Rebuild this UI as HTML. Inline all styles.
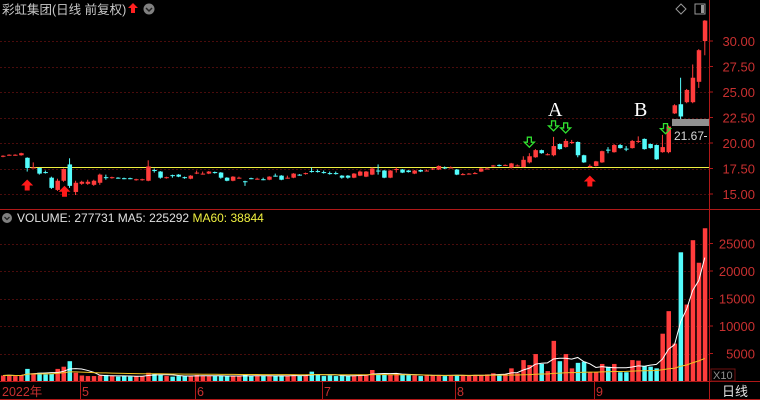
<!DOCTYPE html>
<html><head><meta charset="utf-8"><style>
html,body{margin:0;padding:0;background:#000;}
svg{display:block;font-family:"Liberation Sans","Noto Sans CJK SC",sans-serif;}
</style></head><body>
<svg id="c" width="760" height="400" viewBox="0 0 760 400" xmlns="http://www.w3.org/2000/svg">
<rect x="0" y="0" width="760" height="400" fill="#000"/>
<g id="grid"></g>
<g id="frame">
<line x1="709.5" y1="0" x2="709.5" y2="400" stroke="#b01818"/>
<line x1="0" y1="209.5" x2="760" y2="209.5" stroke="#b01818"/>
<line x1="0" y1="381.5" x2="760" y2="381.5" stroke="#b01818"/>
<line x1="0" y1="399.5" x2="760" y2="399.5" stroke="#b01818"/>
</g>
<text x="2" y="14" font-size="12.5" fill="#c8c8c8">彩虹集团(日线 前复权)</text>
<path d="M133 3 L138 8 L135 8 L135 13 L131 13 L131 8 L128 8 Z" fill="#ff2020"/>
<circle cx="149" cy="9" r="5.5" fill="#808080"/>
<path d="M146 8 L149 11 L152 8" stroke="#222" stroke-width="1.5" fill="none"/>
<path d="M681 4 L686 9 L681 14 L676 9 Z" fill="none" stroke="#999"/>
<rect x="695" y="4" width="10" height="10" fill="none" stroke="#999"/>
<rect x="701" y="5" width="3" height="8" fill="#999"/>
<line x1="30" y1="167.5" x2="709" y2="167.5" stroke="#f0f040" stroke-width="1"/>
<g id="candles"></g>
<g id="vols"></g>
<g id="lines"></g>
<g id="axes"></g>
<rect x="672" y="119" width="37" height="7" fill="#909090"/>
<text x="674" y="140" font-size="12" fill="#d8d8d8">21.67</text>
<line x1="704" y1="136.5" x2="707" y2="136.5" stroke="#d8d8d8"/>
<text x="548" y="116" font-size="20" font-family="Liberation Serif,serif" fill="#fff">A</text>
<text x="634" y="116" font-size="20" font-family="Liberation Serif,serif" fill="#fff">B</text>
<g id="signals"></g>
<circle cx="7" cy="218" r="5" fill="#808080"/>
<path d="M4.5 217 L7 219.5 L9.5 217" stroke="#222" stroke-width="1.3" fill="none"/>
<text x="17" y="222" font-size="12" fill="#e0e0e0">VOLUME: 277731  MA5: 225292 <tspan fill="#f0f040">MA60: 38844</tspan></text>
<rect x="711" y="369" width="24" height="12" fill="none" stroke="#701010"/>
<text x="713" y="379" font-size="11" fill="#909090">X10</text>
<text x="722" y="396" font-size="13" fill="#e0e0e0">日线</text>
<g id="months"></g>
</svg>
<script>
const openP=[18.7,18.8,18.8,18.8,18.55,17.55,17.55,17.15,16.6,15.4,16.3,17.9,15.2,16.0,16.0,15.9,16.1,16.65,16.55,16.6,16.55,16.55,16.35,16.35,16.3,17.35,17.2,16.55,16.85,16.9,16.65,16.5,17.05,16.95,17.0,17.15,17.1,16.6,16.3,16.55,16.25,16.55,16.45,16.45,16.4,16.8,16.8,16.55,16.6,16.9,16.95,17.25,17.25,17.15,17.05,17.05,16.8,16.8,16.6,16.8,16.7,16.9,17.3,17.3,16.6,17.35,17.4,17.3,17.0,17.35,17.25,17.4,17.4,17.6,17.55,17.4,16.9,16.95,17.0,17.2,17.45,17.7,17.85,17.8,17.6,17.75,17.65,18.1,18.6,19.3,18.85,18.8,19.9,19.6,20.05,20.1,18.8,17.7,17.75,18.1,19.35,19.1,19.8,19.45,19.5,20.15,20.4,19.9,19.8,19.1,19.1,22.9,23.8,24.0,24.0,26.0,30.0];
const closeP=[18.75,18.85,18.85,19.0,17.55,17.6,17.0,17.1,15.6,16.3,17.45,15.8,16.1,16.2,16.2,16.3,16.9,16.6,16.65,16.55,16.5,16.5,16.45,16.45,17.7,17.3,16.6,16.65,16.8,16.7,16.6,16.8,17.1,17.0,17.2,17.05,16.6,16.3,16.7,16.6,16.2,16.5,16.5,16.4,16.7,16.75,16.4,16.6,17.0,16.85,17.05,17.2,17.2,17.1,17.0,17.0,16.6,16.6,17.0,17.2,17.2,17.5,17.25,16.6,17.3,17.45,17.1,17.15,17.3,17.2,17.3,17.5,17.75,17.5,17.6,16.9,16.95,17.0,17.05,17.5,17.5,17.8,17.8,17.85,18.0,17.8,18.35,18.7,19.3,19.0,18.9,19.7,19.4,20.2,20.1,18.8,18.1,17.75,18.2,19.2,19.3,19.8,19.5,19.4,20.2,20.2,19.4,19.5,18.4,19.6,21.6,23.7,22.6,25.2,26.4,29.1,32.0];
const highP=[18.8,18.9,18.9,19.05,18.6,18.1,17.6,17.3,16.7,16.5,17.5,18.5,16.3,16.3,16.4,16.4,17.0,16.9,16.7,16.65,16.6,16.6,16.5,16.5,18.3,17.5,17.25,16.7,16.9,16.95,16.7,16.85,17.3,17.2,17.25,17.2,17.15,16.65,16.75,16.7,16.3,16.6,16.6,16.6,16.75,17.0,16.85,16.8,17.05,16.95,17.1,17.6,17.4,17.3,17.2,17.2,16.85,16.85,17.05,17.3,17.25,17.6,17.9,17.35,17.35,17.6,17.45,17.35,17.35,17.4,17.4,17.55,17.8,17.7,17.7,17.45,17.05,17.05,17.15,17.55,17.6,17.85,17.9,17.9,18.05,17.9,18.7,19.0,19.4,19.35,19.0,20.6,19.95,20.4,20.3,20.15,18.85,17.9,18.25,19.25,19.6,19.9,19.9,19.7,20.3,20.65,20.45,19.95,19.85,20.8,21.7,23.8,26.4,25.3,27.7,29.2,32.05];
const lowP=[18.6,18.75,18.75,18.75,17.2,17.5,16.9,17.0,15.5,15.3,16.2,15.6,14.9,15.9,15.9,15.8,15.9,16.4,16.5,16.5,16.45,16.45,16.3,16.3,16.25,17.1,16.5,16.5,16.6,16.65,16.5,16.45,16.95,16.9,16.95,17.0,16.5,16.25,16.25,16.5,15.8,16.45,16.4,16.35,16.35,16.7,16.35,16.5,16.55,16.8,16.9,17.1,17.1,17.0,16.9,16.9,16.5,16.5,16.55,16.75,16.65,16.85,16.9,16.55,16.55,17.1,17.05,17.1,16.95,17.15,17.2,17.35,17.35,17.45,17.5,16.85,16.85,16.9,16.95,17.15,17.4,17.65,17.7,17.75,17.5,17.7,17.6,18.0,18.55,18.95,18.8,18.7,19.35,19.55,19.9,18.6,18.05,17.6,17.7,18.05,19.0,19.05,19.45,19.2,19.45,20.0,19.35,19.45,18.35,19.05,19.0,22.85,22.3,23.9,23.9,25.4,28.6];
const volume=[1000,1100,900,1000,2200,1400,1500,1200,1300,2200,2600,3600,1500,1000,900,900,1000,1100,900,800,900,800,900,900,1500,1300,1100,900,800,900,900,1000,1100,900,900,900,1000,900,900,900,1100,900,1000,900,900,1000,1000,900,1100,900,1000,1700,1200,900,1000,900,1000,900,1000,1200,1100,2000,1300,1200,1100,1300,1300,1100,1000,900,1000,1100,1100,900,1000,1100,1000,900,1100,1000,1200,1400,1200,1300,2300,1400,3800,2900,4900,3100,1800,7300,3600,4900,2300,3300,3500,1600,1600,3100,2600,3100,1600,1600,3800,3700,2700,2600,2300,8600,12700,6800,23400,13900,25600,21500,27773];
const priceTicks=[30,27.5,25,22.5,20,17.5,15];
const volTicks=[25000,20000,15000,10000,5000];
const monthLabels=["2022年","5","6","7","8","9"];
const monthIdx=[0,13,32,53,75,98];

const NS="http://www.w3.org/2000/svg";
const X=i=>3+i*6.05;
const PY=p=>41+(30-p)*10.2;
const VY=v=>381-v*0.0055;
function mk(tag,attrs,parent){const e=document.createElementNS(NS,tag);for(const k in attrs)e.setAttribute(k,attrs[k]);parent.appendChild(e);return e;}
const UP="#ff3c3c",DN="#54fcfc";
const grid=document.getElementById('grid');
priceTicks.forEach(t=>{const l=mk('line',{x1:0,x2:709,y1:Math.round(PY(t))+0.5,y2:Math.round(PY(t))+0.5,stroke:"#4a0c0c","stroke-dasharray":"2,2"},grid);

});
volTicks.forEach(t=>{const l=mk('line',{x1:0,x2:709,y1:Math.round(VY(t))+0.5,y2:Math.round(VY(t))+0.5,stroke:"#4a0c0c","stroke-dasharray":"2,2"},grid);

});
const axes=document.getElementById('axes');
priceTicks.forEach(t=>{const tx=mk('text',{x:755,y:PY(t)+5,"font-size":13,fill:"#c83030","text-anchor":"end"},axes);tx.textContent=t.toFixed(2);


mk('line',{x1:709,x2:713,y1:PY(t),y2:PY(t),stroke:"#b01818"},axes);});
volTicks.forEach(t=>{const tx=mk('text',{x:755,y:VY(t)+5,"font-size":13,fill:"#c83030","text-anchor":"end"},axes);tx.textContent=t;


mk('line',{x1:709,x2:713,y1:VY(t),y2:VY(t),stroke:"#b01818"},axes);});
const cg=document.getElementById('candles');
for(let i=0;i<openP.length;i++){
 const up=closeP[i]>=openP[i],col=up?UP:DN,x=X(i);
 const g=mk('g',{},cg);
 
 
 mk('line',{x1:x,x2:x,y1:PY(highP[i]),y2:PY(lowP[i]),stroke:col,"stroke-width":1},g);
 const t=PY(Math.max(openP[i],closeP[i])),b=PY(Math.min(openP[i],closeP[i]));
 mk('rect',{x:x-2,y:t,width:4.5,height:Math.max(1,b-t),fill:col},g);
}
const vg=document.getElementById('vols');
for(let i=0;i<volume.length;i++){
 const up=closeP[i]>=openP[i];
 const r=mk('rect',{x:X(i)-2,y:VY(volume[i]),width:4.5,height:381-VY(volume[i]),fill:up?UP:DN},vg);
 
 
}
function ma(n){return volume.map((v,i)=>{const s=volume.slice(Math.max(0,i-n+1),i+1);return s.reduce((a,b)=>a+b,0)/s.length;});}
const lg=document.getElementById('lines');
[[ma(5),"#ffffff","ma5-line"],[ma(60),"#f0c020","ma60-line"]].forEach(([arr,c,n])=>{
 const p=mk('polyline',{points:arr.map((v,i)=>X(i)+","+VY(v)).join(" "),fill:"none",stroke:c,"stroke-width":1},lg);
 
 
});
const sg=document.getElementById('signals');
[4,10,97].forEach(i=>{const x=X(i)+(i==10?1:0),y=PY(lowP[i])+(i==10?4:8);
 const a=mk('path',{d:`M${x} ${y} L${x+6} ${y+6} L${x+2.5} ${y+6} L${x+2.5} ${y+11} L${x-2.5} ${y+11} L${x-2.5} ${y+6} L${x-6} ${y+6} Z`,fill:"#ff1a1a"},sg);
 
 });
[87,91,93,110].forEach(i=>{const x=X(i)-(i==110?3:0),y=PY(highP[i])-(i==110?2:16);
 const a=mk('path',{d:`M${x-2} ${y} L${x+2} ${y} L${x+2} ${y+5} L${x+5} ${y+5} L${x} ${y+10} L${x-5} ${y+5} L${x-2} ${y+5} Z`,fill:"none",stroke:"#30e030","stroke-width":1.3},sg);
 
 });
const mg=document.getElementById('months');
monthLabels.forEach((m,k)=>{const x=k==0?0:Math.round(X(monthIdx[k])-2);
 if(k>0)mk('line',{x1:x+0.5,x2:x+0.5,y1:381,y2:399,stroke:"#b01818"},mg);
 const t=mk('text',{x:x+2,y:396,"font-size":12.5,fill:"#c83030"},mg);t.textContent=m;
 
 });
</script>
</body></html>
